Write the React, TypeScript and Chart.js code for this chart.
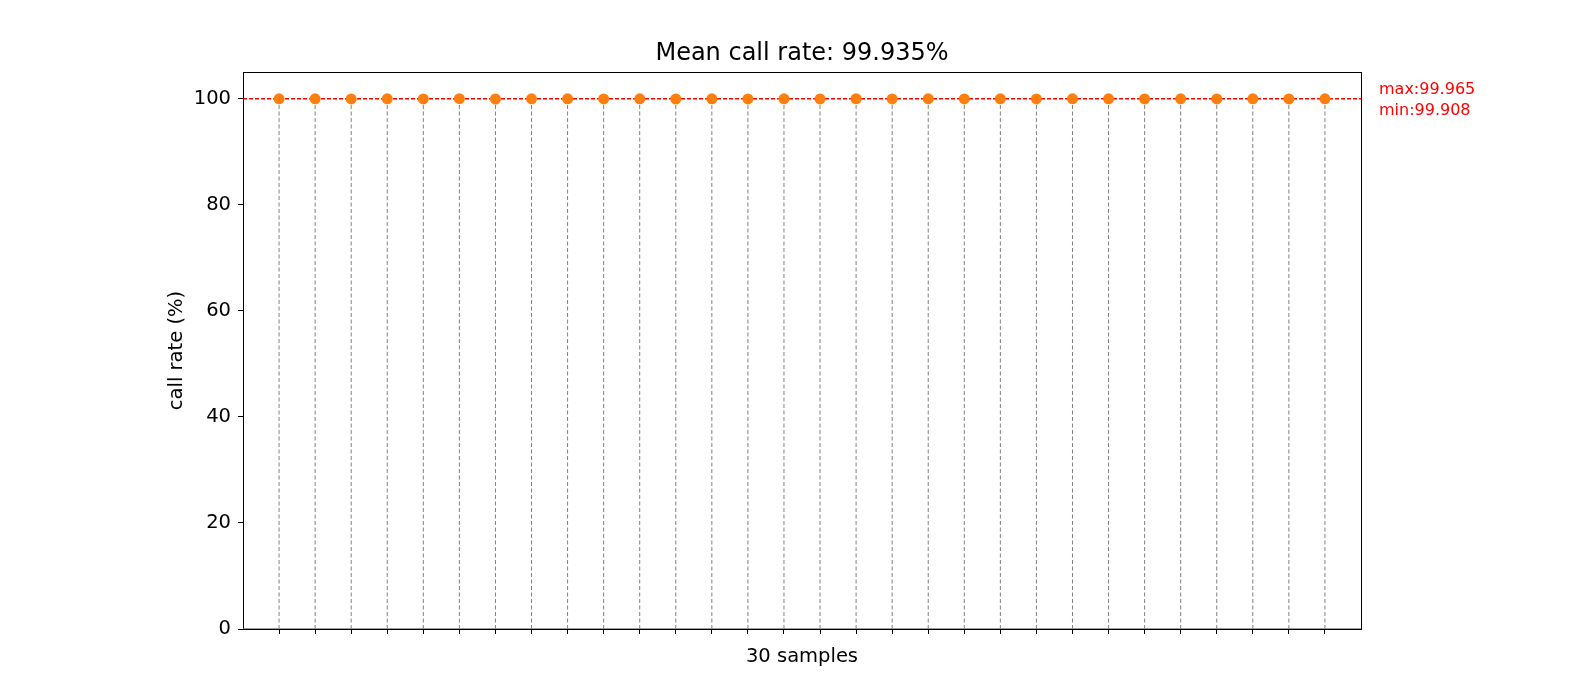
import { useEffect, useRef } from 'react'
import { Chart, registerables } from 'chart.js'
import type { Plugin } from 'chart.js'

Chart.register(...registerables)

// call rate (%) for each of the 30 samples
const callRates = [
  99.935, 99.942, 99.921, 99.95, 99.93, 99.965, 99.912, 99.938, 99.944, 99.927,
  99.936, 99.908, 99.948, 99.933, 99.94, 99.925, 99.955, 99.931, 99.937, 99.929,
  99.946, 99.919, 99.934, 99.941, 99.928, 99.952, 99.924, 99.939, 99.932, 99.943
]

const yTicks = [0, 20, 40, 60, 80, 100]

const FONT = "'DejaVu Sans', sans-serif"

const meanRate = callRates.reduce((a, b) => a + b, 0) / callRates.length
const maxRate = Math.max(...callRates)
const minRate = Math.min(...callRates)

// box around the plot area (bottom edge gets covered by the grey baseline)
const framePlugin: Plugin = {
  id: 'frame',
  beforeDatasetsDraw(chart) {
    const { ctx, chartArea } = chart
    ctx.save()
    ctx.strokeStyle = '#000'
    ctx.lineWidth = 1
    ctx.strokeRect(
      Math.round(chartArea.left) + 0.5,
      Math.round(chartArea.top) + 0.5,
      Math.round(chartArea.right - chartArea.left),
      Math.round(chartArea.bottom - chartArea.top)
    )
    ctx.restore()
  }
}

// title centred over the plot area, max / min notes on the right
const textPlugin: Plugin = {
  id: 'texts',
  afterDraw(chart) {
    const { ctx, chartArea } = chart
    ctx.save()
    ctx.textBaseline = 'alphabetic'

    ctx.fillStyle = '#000'
    ctx.font = `24px ${FONT}`
    ctx.textAlign = 'center'
    ctx.fillText(
      `Mean call rate: ${meanRate.toFixed(3)}%`,
      (chartArea.left + chartArea.right) / 2,
      chartArea.top - 12
    )

    ctx.fillStyle = '#ff0000'
    ctx.font = `16px ${FONT}`
    ctx.textAlign = 'left'
    const x = chartArea.right + 18
    ctx.fillText(`max:${maxRate.toFixed(3)}`, x, chartArea.top + 21.5)
    ctx.fillText(`min:${minRate.toFixed(3)}`, x, chartArea.top + 43)
    ctx.restore()
  }
}

export default function App() {
  const canvasRef = useRef<HTMLCanvasElement>(null)

  useEffect(() => {
    if (!canvasRef.current) return

    const stems = callRates.map((v, i) => ({
      type: 'line' as const,
      data: [{ x: i, y: 0 }, { x: i, y: v }],
      borderColor: '#808080',
      borderWidth: 1,
      borderDash: [4, 2.5],
      pointRadius: 0,
      order: 3
    }))

    const chart = new Chart(canvasRef.current, {
      type: 'line',
      data: {
        datasets: [
          {
            data: callRates.map((v, i) => ({ x: i, y: v })),
            showLine: false,
            pointRadius: 5.5,
            pointBorderWidth: 0,
            pointBackgroundColor: '#ff7f0e',
            order: 0
          },
          {
            data: [{ x: -1, y: meanRate }, { x: callRates.length, y: meanRate }],
            borderColor: '#ff0000',
            borderWidth: 1.5,
            borderDash: [4, 2],
            pointRadius: 0,
            order: 1
          },
          {
            data: [{ x: -1, y: 0 }, { x: callRates.length, y: 0 }],
            borderColor: '#808080',
            borderWidth: 1.5,
            pointRadius: 0,
            order: 2
          },
          ...stems
        ]
      },
      options: {
        animation: false,
        responsive: true,
        maintainAspectRatio: false,
        events: [],
        layout: {
          padding: { left: 165, right: 208, top: 72, bottom: 24 }
        },
        scales: {
          x: {
            type: 'linear',
            min: -1,
            max: callRates.length,
            afterBuildTicks: (axis) => {
              axis.ticks = callRates.map((_, i) => ({ value: i }))
            },
            afterFit: (axis) => {
              axis.height = 40
            },
            ticks: { display: false, autoSkip: false },
            grid: {
              drawOnChartArea: false,
              drawTicks: true,
              tickLength: 5,
              tickColor: '#000',
              tickWidth: 1
            },
            border: { display: false },
            title: {
              display: true,
              text: `${callRates.length} samples`,
              color: '#000',
              padding: 0,
              font: { family: FONT, size: 19.5 }
            }
          },
          y: {
            min: 0,
            max: 105,
            afterBuildTicks: (axis) => {
              axis.ticks = yTicks.map((v) => ({ value: v }))
            },
            afterFit: (axis) => {
              axis.width = 78
            },
            ticks: {
              color: '#000',
              padding: 7,
              font: { family: FONT, size: 19.5 }
            },
            grid: {
              drawOnChartArea: false,
              drawTicks: true,
              tickLength: 5,
              tickColor: '#000',
              tickWidth: 1
            },
            border: { display: false },
            title: {
              display: true,
              text: 'call rate (%)',
              color: '#000',
              padding: 0,
              font: { family: FONT, size: 19.5 }
            }
          }
        },
        plugins: {
          legend: { display: false },
          tooltip: { enabled: false },
          title: { display: false }
        }
      },
      plugins: [framePlugin, textPlugin]
    })

    return () => {
      chart.destroy()
    }
  }, [])

  return (
    <div style={{ position: 'absolute', left: 0, top: 0, width: '1569px', height: '693px', background: '#fff' }}>
      <canvas ref={canvasRef}></canvas>
    </div>
  )
}
